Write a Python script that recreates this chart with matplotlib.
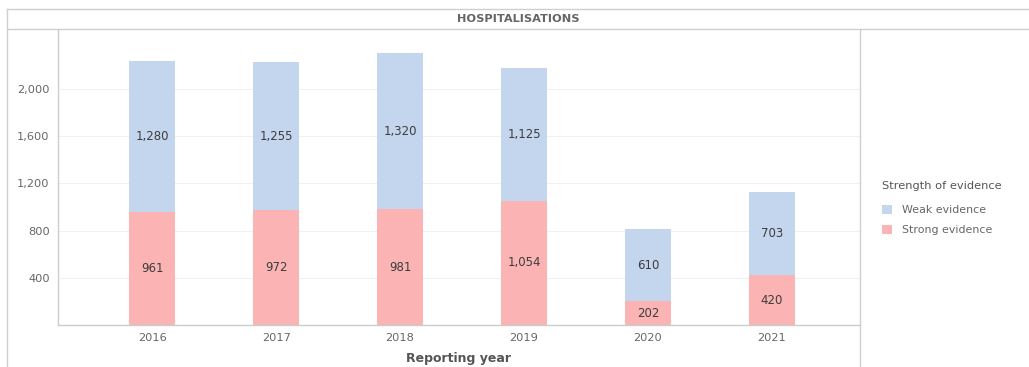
import matplotlib
matplotlib.use("Agg")
import matplotlib.pyplot as plt
import matplotlib.patches as mpatches
from matplotlib.lines import Line2D

plt.rcParams.update({"font.family": "DejaVu Sans"})

years = ["2016", "2017", "2018", "2019", "2020", "2021"]
strong = [961, 972, 981, 1054, 202, 420]
weak = [1280, 1255, 1320, 1125, 610, 703]
yticks = [400, 800, 1200, 1600, 2000]

WEAK_COLOR = "#c4d5ee"
STRONG_COLOR = "#fbb3b3"
TEXT = "#3d3d3d"
W, H = 1029, 367

fig = plt.figure(figsize=(W / 100, H / 100), dpi=100)

# plot area in pixel coords -> figure fractions
left, right, top, bottom = 58, 860, 29, 325
ax = fig.add_axes([left / W, 1 - bottom / H, (right - left) / W, (bottom - top) / H])

x = range(len(years))
ax.bar(x, strong, width=0.37, color=STRONG_COLOR, zorder=2)
ax.bar(x, weak, width=0.37, bottom=strong, color=WEAK_COLOR, zorder=2)

for i in x:
    ax.text(i, strong[i] / 2, f"{strong[i]:,}", ha="center", va="center",
            fontsize=8.5, color=TEXT, zorder=3)
    ax.text(i, strong[i] + weak[i] / 2, f"{weak[i]:,}", ha="center", va="center",
            fontsize=8.5, color=TEXT, zorder=3)

ax.set_xlim(-0.76, 5.71)
ax.set_ylim(0, 2508)
ax.set_xticks(list(x))
ax.set_xticklabels(years)
ax.set_yticks(yticks)
ax.set_yticklabels([f"{v:,}" for v in yticks])
ax.tick_params(axis="both", labelsize=8.2, colors="#666666", length=0, pad=6)
ax.yaxis.grid(True, color="#f0f0f0", lw=0.8, zorder=0)
ax.set_axisbelow(True)
for s in ["top", "right"]:
    ax.spines[s].set_visible(False)
for s in ["left", "bottom"]:
    ax.spines[s].set_color("#cccccc")
    ax.spines[s].set_linewidth(1.0)
ax.set_xlabel("Reporting year", fontsize=9, fontweight="bold", color="#555555", labelpad=6)

# outer frame, title band and legend divider
frame = "#cfcfcf"
fig.add_artist(Line2D([7 / W, 1], [1 - 9 / H] * 2, color=frame, lw=1.0))
fig.add_artist(Line2D([7 / W, 1], [1 - 29 / H] * 2, color=frame, lw=1.0))
fig.add_artist(Line2D([7 / W] * 2, [0, 1 - 9 / H], color=frame, lw=1.0))
fig.add_artist(Line2D([860 / W] * 2, [0, 1 - 29 / H], color=frame, lw=1.0))
fig.text(518 / W, 1 - 19 / H, "HOSPITALISATIONS", ha="center", va="center",
         fontsize=8.2, fontweight="bold", color="#666666")

handles = [mpatches.Patch(facecolor=WEAK_COLOR, label="Weak evidence"),
           mpatches.Patch(facecolor=STRONG_COLOR, label="Strong evidence")]
leg = fig.legend(handles=handles, title="Strength of evidence", loc="upper left",
                 bbox_to_anchor=(872 / W, 1 - 171 / H), frameon=False,
                 fontsize=7.9, title_fontsize=8.2, handlelength=0.9, handleheight=0.9,
                 handletextpad=0.9, labelspacing=0.9)
leg._legend_box.align = "left"
leg._legend_box.sep = 10
leg.get_title().set_color("#555555")
for t in leg.get_texts():
    t.set_color("#666666")

fig.savefig("out.png", dpi=100)
